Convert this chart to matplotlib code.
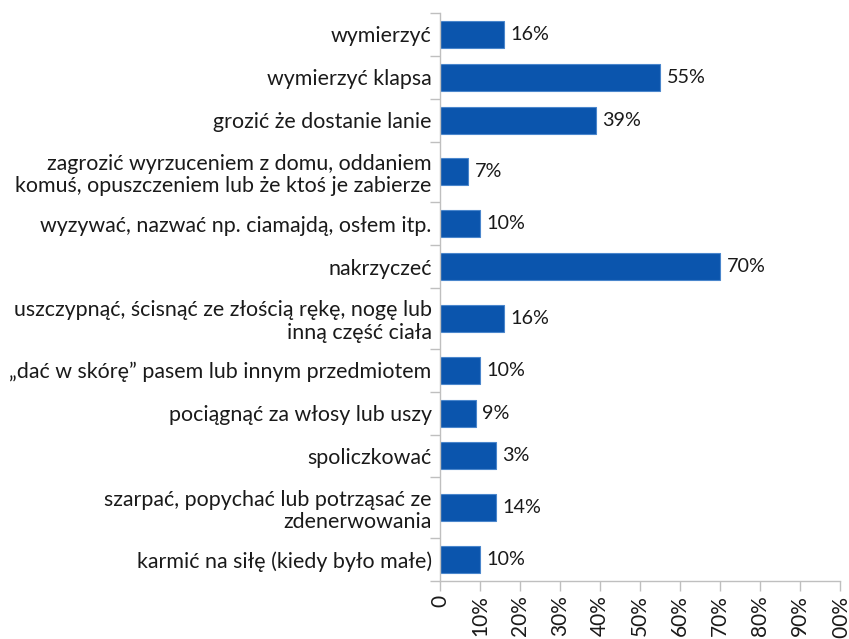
import matplotlib
matplotlib.use("Agg")
import matplotlib.pyplot as plt
import numpy as np

plt.rcParams['font.family'] = ['Lato', 'DejaVu Sans']

kategorie = [
    "wymierzyć",
    "wymierzyć klapsa",
    "grozić że dostanie lanie",
    "zagrozić wyrzuceniem z domu, oddaniem\nkomuś, opuszczeniem lub że ktoś je zabierze",
    "wyzywać, nazwać np. ciamajdą, osłem itp.",
    "nakrzyczeć",
    "uszczypnąć, ścisnąć ze złością rękę, nogę lub\ninną część ciała",
    "„dać w skórę” pasem lub innym przedmiotem",
    "pociągnąć za włosy lub uszy",
    "spoliczkować",
    "szarpać, popychać lub potrząsać ze\nzdenerwowania",
    "karmić na siłę (kiedy było małe)",
]
# długości słupków
wartosci = [16, 55, 39, 7, 10, 70, 16, 10, 9, 14, 14, 10]
# etykiety przy słupkach (tak jak w oryginale)
etykiety = ["16%", "55%", "39%", "7%", "10%", "70%", "16%", "10%", "9%", "3%", "14%", "10%"]
ticki = ["0", "10%", "20%", "30%", "40%", "50%", "60%", "70%", "80%", "90%", "100%"]

# wiersze z dwulinijkowym opisem są wyższe
wys = np.array([1 + 0.42 * (k.count("\n")) for k in kategorie])
granice = np.concatenate([[0], np.cumsum(wys)])
y = (granice[:-1] + granice[1:]) / 2

fig = plt.figure(figsize=(8.49, 6.39), dpi=100)
ax = fig.add_axes([440 / 849, 1 - 581 / 639, 400 / 849, 568 / 639])

ax.barh(y, wartosci, height=0.63, color="#0b55ad", edgecolor="#4a86cc", linewidth=0.8)
for yi, v, t in zip(y, wartosci, etykiety):
    ax.text(v + 1.6, yi, t, va="center", ha="left", fontsize=14.2, color="#1a1a1a")

ax.set_ylim(granice[-1], 0)
ax.set_xlim(0, 100)
ax.set_yticks(y)
ax.set_yticklabels(kategorie, fontsize=15.4, color="#1a1a1a", linespacing=1.15)
ax.tick_params(axis="y", length=0, pad=6)
ax.set_yticks(granice, minor=True)
ax.tick_params(axis="y", which="minor", length=7, color="#bfbfbf", width=1)

ax.set_xticks(np.arange(0, 101, 10))
ax.set_xticklabels(ticki, rotation=90, fontsize=15, color="#1a1a1a")
ax.tick_params(axis="x", length=7, color="#bfbfbf", width=1, pad=3)

for s in ["top", "right"]:
    ax.spines[s].set_visible(False)
for s in ["left", "bottom"]:
    ax.spines[s].set_color("#bfbfbf")
    ax.spines[s].set_linewidth(1)

fig.savefig("out.png", dpi=100)
